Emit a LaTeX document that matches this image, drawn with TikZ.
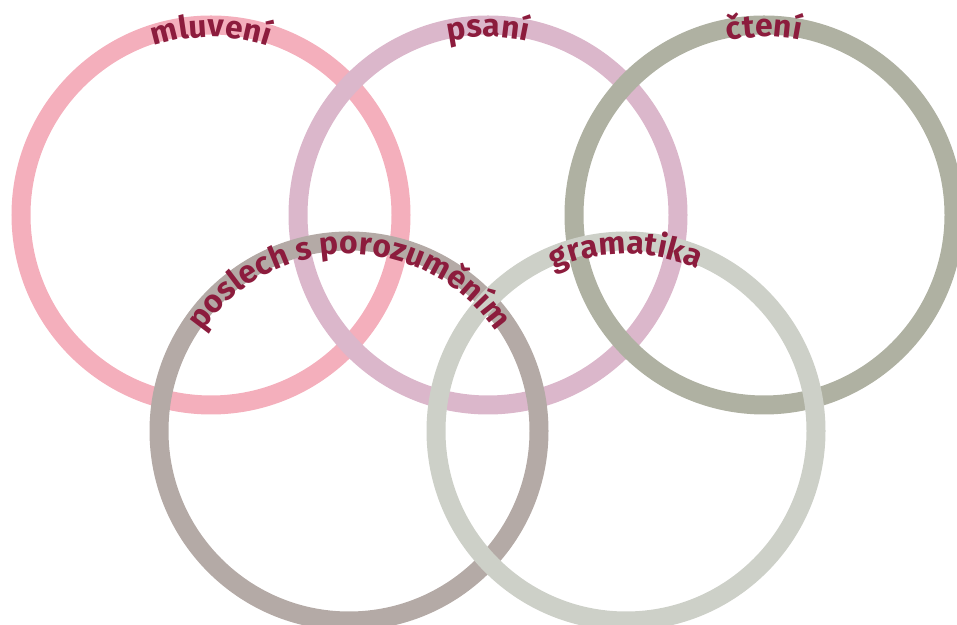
\documentclass[tikz,border=0pt]{standalone}
\usepackage{fontspec}
\setmainfont{Fira Sans}
\usetikzlibrary{decorations.text}
\definecolor{ringpink}{HTML}{F4AFBC}
\definecolor{ringmauve}{HTML}{DBB7CB}
\definecolor{ringolive}{HTML}{AFB1A2}
\definecolor{ringtaupe}{HTML}{B4AAA6}
\definecolor{ringgrey}{HTML}{CDD0C8}
\definecolor{wordred}{HTML}{8C1C3D}
\newcommand{\ringfont}{\fontsize{32}{32}\selectfont\bfseries\color{wordred}}

\begin{document}
\begin{tikzpicture}[x=1bp,y=1bp,
ringline/.style={draw=#1,line width=19bp},
ringword/.style={decorate,decoration={text along path,text align=center,
text={|\ringfont|#1}}}]
\useasboundingbox (0,0) rectangle (957,625);
\coordinate (mluveni) at (211,410);
\coordinate (psani) at (488,410);
\coordinate (cteni) at (764,410);
\coordinate (poslech) at (349,194);
\coordinate (gramatika) at (626,194);
% rings, top row first
\draw[ringline=ringpink] (mluveni) circle[radius=190];
\draw[ringline=ringmauve] (psani) circle[radius=190];
\draw[ringline=ringolive] (cteni) circle[radius=190];
\draw[ringline=ringtaupe] (poslech) circle[radius=190];
\draw[ringline=ringgrey] (gramatika) circle[radius=190];
% words along the top of each ring
\path[ringword={mluvení}] (mluveni) ++(180:178) arc[start angle=180,end angle=0,radius=178];
\path[ringword={psaní}] (psani) ++(180:178) arc[start angle=180,end angle=0,radius=178];
\path[ringword={čtení}] (cteni) ++(180:178) arc[start angle=180,end angle=0,radius=178];
\path[ringword={poslech s porozuměním}] (poslech) ++(180:177) arc[start angle=180,end angle=0,radius=177];
\path[ringword={gramatika}] (gramatika) ++(180:177) arc[start angle=180,end angle=0,radius=177];
\end{tikzpicture}
\end{document}
